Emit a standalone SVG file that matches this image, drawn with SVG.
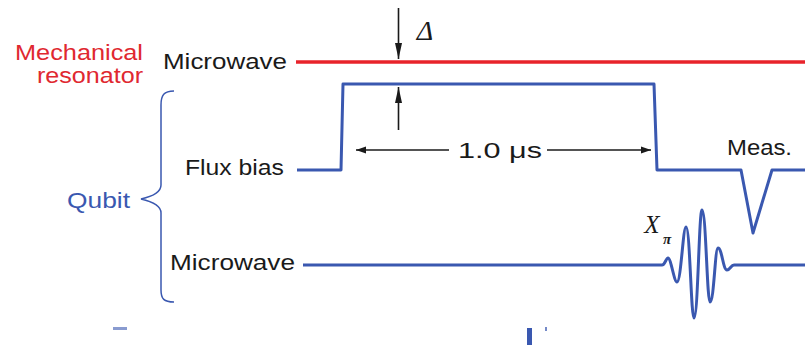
<svg xmlns="http://www.w3.org/2000/svg" width="805" height="345" viewBox="0 0 805 345">
<style>
.lbl{font-family:"Liberation Sans",Arial,sans-serif;font-size:22px;fill:#1a1a1a}
.red{fill:#e02830}
.blu{fill:#3a58b0}
.wire{fill:none;stroke:#3a58b0;stroke-width:3;stroke-linejoin:round}
.arr{fill:none;stroke:#1a1a1a;stroke-width:1.6}
</style>
<defs>
<marker id="ah" viewBox="0 0 10 10" refX="10" refY="5" markerWidth="10" markerHeight="10" markerUnits="userSpaceOnUse" orient="auto">
<path d="M0,1.5 L10,5 L0,8.5 Z" fill="#1a1a1a"/>
</marker>
<marker id="ahL" viewBox="0 0 16 10" refX="16" refY="5" markerWidth="16" markerHeight="10" markerUnits="userSpaceOnUse" orient="auto">
<path d="M0,1.5 L16,5 L0,8.5 Z" fill="#1a1a1a"/>
</marker>
</defs>
<g id="label-mech">
<text class="lbl red" x="15" y="60" textLength="128" lengthAdjust="spacingAndGlyphs">Mechanical</text>
<text class="lbl red" x="37" y="83" textLength="106" lengthAdjust="spacingAndGlyphs">resonator</text>
</g>
<g id="label-qubit">
<text class="lbl blu" x="67" y="208" textLength="63" lengthAdjust="spacingAndGlyphs">Qubit</text>
<path d="M174,91 C164,91 161,95 161,105 L161,185 C161,193 150,197 141,199 C150,201 161,205 161,213 L161,290 C161,299 164,302 174,302" fill="none" stroke="#3a58b0" stroke-width="1.5"/>
</g>
<g id="mech-microwave">
<text class="lbl" x="163" y="69" textLength="124" lengthAdjust="spacingAndGlyphs">Microwave</text>
<line x1="296" y1="62" x2="805" y2="62" stroke="#e8232b" stroke-width="3.5"/>
</g>
<g id="flux-bias">
<text class="lbl" x="185" y="175" textLength="99" lengthAdjust="spacingAndGlyphs">Flux bias</text>
<path class="wire" d="M297,170 L341,170 L343,84 L654,84 L657,170 L741,170 L753,233 L772,170 L805,170"/>
<text class="lbl" x="727" y="155" textLength="65" lengthAdjust="spacingAndGlyphs">Meas.</text>
</g>
<g id="qubit-microwave">
<text class="lbl" x="170" y="270" textLength="125" lengthAdjust="spacingAndGlyphs">Microwave</text>
<path class="wire" d="M303,265 L662,265 C665,265 666,258 668,258 C671,258 674,282 677,282 C681,282 683,227 686,227 C690,227 691,318 694,318 C698,318 699,210 702,210 C706,210 707,302 710,302 C714,302 715,248 718,248 C722,248 723,270 727,270 C730,270 731,265 734,265 L805,265"/>
<text x="652" y="233" font-family="Liberation Serif,serif" font-style="italic" font-size="25" fill="#1a1a1a" text-anchor="middle">X</text>
<text x="667" y="244" font-family="Liberation Serif,serif" font-style="italic" font-weight="bold" font-size="15" fill="#1a1a1a" text-anchor="middle">π</text>
</g>
<g id="connectors">
<line class="arr" x1="398.5" y1="8" x2="398.5" y2="59" marker-end="url(#ahL)"/>
<line class="arr" x1="398.5" y1="130" x2="398.5" y2="87" marker-end="url(#ahL)"/>
<line class="arr" x1="449" y1="150" x2="356" y2="150" marker-end="url(#ah)"/>
<line class="arr" x1="547" y1="150" x2="651" y2="150" marker-end="url(#ah)"/>
</g>
<text x="425" y="40" font-family="Liberation Serif,serif" font-style="italic" font-size="28" fill="#1a1a1a" text-anchor="middle">Δ</text>
<text class="lbl" x="458" y="158" font-size="27" textLength="84" lengthAdjust="spacingAndGlyphs">1.0 μs</text>
<rect x="113" y="327" width="14" height="3" fill="#3a58b0" opacity="0.6"/>
<rect x="527" y="328" width="5" height="17" fill="#3a58b0"/>
<rect x="545" y="327" width="2" height="4" fill="#3a58b0" opacity="0.7"/>
</svg>
